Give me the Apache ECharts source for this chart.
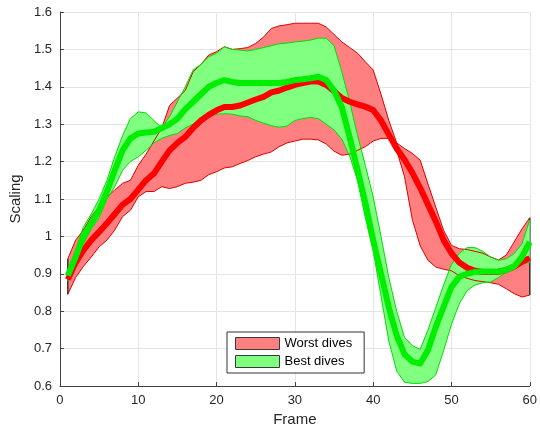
<!DOCTYPE html>
<html>
<head>
<meta charset="utf-8">
<script src="https://cdn.jsdelivr.net/npm/echarts@6/dist/echarts.min.js"></script>
<style>html,body{margin:0;padding:0;background:#fff;}#chart{width:540px;height:435px;}</style>
</head>
<body>
<div id="chart"></div>
<script>
const frames = [1,2,3,4,5,6,7,8,9,10,11,12,13,14,15,16,17,18,19,20,21,22,23,24,25,26,27,28,29,30,
  31,32,33,34,35,36,37,38,39,40,41,42,43,44,45,46,47,48,49,50,51,52,53,54,55,56,57,58,59,60];

const worstUpper = [0.94,0.99,1.017,1.053,1.08,1.106,1.124,1.142,1.15,1.19,1.22,1.255,1.29,1.35,1.37,1.39,1.44,1.46,1.485,1.494,
  1.507,1.50,1.502,1.505,1.516,1.533,1.556,1.563,1.566,1.57,1.57,1.57,1.57,1.56,1.54,1.52,1.505,1.49,1.467,1.445,
  1.38,1.31,1.25,1.235,1.222,1.204,1.14,1.078,1.016,0.976,0.967,0.965,0.96,0.955,0.945,0.937,0.95,0.985,1.02,1.05];
const worstMean = [0.885,0.93,0.963,0.99,1.012,1.035,1.06,1.085,1.1,1.125,1.15,1.168,1.2,1.23,1.25,1.266,1.29,1.31,1.325,1.337,
  1.346,1.346,1.35,1.358,1.366,1.373,1.385,1.39,1.398,1.405,1.41,1.414,1.414,1.405,1.388,1.37,1.36,1.353,1.347,1.338,
  1.31,1.272,1.235,1.205,1.17,1.13,1.085,1.04,0.99,0.955,0.93,0.916,0.908,0.905,0.905,0.905,0.91,0.919,0.932,0.942];
const worstLower = [0.845,0.89,0.92,0.945,0.972,0.99,1.017,1.053,1.07,1.106,1.12,1.12,1.133,1.128,1.133,1.142,1.145,1.15,1.165,1.173,
  1.183,1.186,1.195,1.203,1.213,1.22,1.226,1.24,1.25,1.255,1.26,1.26,1.258,1.247,1.228,1.217,1.22,1.23,1.24,1.255,
  1.262,1.262,1.23,1.16,1.045,0.975,0.936,0.918,0.912,0.908,0.895,0.888,0.882,0.879,0.876,0.872,0.86,0.847,0.838,0.843];

const bestUpper = [0.91,0.963,1.026,1.06,1.1,1.15,1.213,1.27,1.315,1.333,1.33,1.31,1.29,1.32,1.36,1.40,1.445,1.46,1.48,1.49,
  1.507,1.50,1.498,1.496,1.50,1.505,1.51,1.515,1.517,1.52,1.522,1.525,1.53,1.53,1.51,1.44,1.36,1.27,1.19,1.106,
  1.0,0.89,0.8,0.73,0.708,0.698,0.75,0.81,0.87,0.925,0.955,0.97,0.97,0.96,0.945,0.936,0.94,0.954,0.98,1.045];
const bestMean = [0.895,0.945,1.0,1.035,1.07,1.12,1.177,1.23,1.262,1.275,1.278,1.28,1.29,1.3,1.315,1.34,1.36,1.38,1.40,1.41,
  1.418,1.413,1.41,1.41,1.41,1.41,1.41,1.41,1.413,1.418,1.42,1.423,1.427,1.418,1.39,1.345,1.265,1.178,1.09,0.99,
  0.90,0.81,0.735,0.685,0.665,0.66,0.696,0.758,0.812,0.865,0.892,0.9,0.905,0.906,0.906,0.906,0.91,0.92,0.945,0.985];
const bestLower = [0.88,0.93,0.98,1.02,1.05,1.1,1.133,1.177,1.2,1.213,1.23,1.25,1.262,1.27,1.275,1.29,1.30,1.315,1.325,1.327,
  1.328,1.327,1.322,1.32,1.31,1.303,1.296,1.292,1.295,1.31,1.315,1.318,1.315,1.30,1.285,1.26,1.215,1.15,1.05,0.963,
  0.84,0.72,0.64,0.61,0.607,0.607,0.612,0.63,0.695,0.765,0.82,0.855,0.87,0.876,0.878,0.89,0.905,0.919,0.927,0.93];

const xTicks = {min: 0, max: 60, interval: 10};
const yTicks = {min: 0.6, max: 1.6, interval: 0.1};

const FONT = '"Liberation Sans", Arial, Helvetica, sans-serif';
const pairs = (ys) => frames.map((f, i) => [f, ys[i]]);

function bandSeries(name, lower, upper, fill, endStroke) {
  return {
    name: name,
    type: 'custom',
    silent: true,
    data: frames.map((f, i) => [f, lower[i], upper[i]]),
    encode: {x: 0, y: [1, 2]},
    renderItem: function (params, api) {
      if (params.dataIndex !== 0) return null;
      const pts = [];
      for (let i = 0; i < frames.length; i++) pts.push(api.coord([frames[i], upper[i]]));
      for (let i = frames.length - 1; i >= 0; i--) pts.push(api.coord([frames[i], lower[i]]));
      const n = frames.length - 1;
      const children = [{
        type: 'polygon',
        shape: {points: pts},
        style: {fill: fill, stroke: null}
      }];
      if (endStroke) {
        [0, n].forEach(function (k) {
          const a = api.coord([frames[k], lower[k]]);
          const b = api.coord([frames[k], upper[k]]);
          children.push({type: 'line', shape: {x1: a[0], y1: a[1], x2: b[0], y2: b[1]},
            style: {stroke: endStroke, lineWidth: 1.5}});
        });
      }
      return {type: 'group', children: children};
    },
    z: 2
  };
}

function lineSeries(name, ys, color, width) {
  return {
    name: name,
    type: 'line',
    data: pairs(ys),
    showSymbol: false,
    symbol: 'none',
    silent: true,
    lineStyle: {color: color, width: width, join: 'round'},
    itemStyle: {color: color},
    z: 3
  };
}

const chart = echarts.init(document.getElementById('chart'), null, {renderer: 'canvas'});
chart.setOption({
  animation: false,
  backgroundColor: '#ffffff',
  textStyle: {fontFamily: FONT},
  grid: {left: 58, right: 6.5, top: 12, bottom: 49, containLabel: false},
  xAxis: {
    type: 'value',
    min: xTicks.min, max: xTicks.max, interval: xTicks.interval,
    name: 'Frame', nameLocation: 'middle', nameGap: 24,
    nameTextStyle: {color: '#262626', fontSize: 15, fontFamily: FONT},
    axisLine: {show: true, onZero: false, lineStyle: {color: '#404040', width: 1}},
    axisTick: {show: true, inside: true, length: 4, lineStyle: {color: '#404040'}},
    axisLabel: {color: '#262626', fontSize: 13, margin: 8, fontFamily: FONT},
    splitLine: {show: true, lineStyle: {color: '#e5e5e5', width: 1}}
  },
  yAxis: {
    type: 'value',
    min: yTicks.min, max: yTicks.max, interval: yTicks.interval,
    name: 'Scaling', nameLocation: 'middle', nameGap: 33,
    nameTextStyle: {color: '#262626', fontSize: 15, fontFamily: FONT},
    axisLine: {show: true, onZero: false, lineStyle: {color: '#404040', width: 1}},
    axisTick: {show: true, inside: true, length: 4, lineStyle: {color: '#404040'}},
    axisLabel: {color: '#262626', fontSize: 13, margin: 8, fontFamily: FONT,
      formatter: (v) => String(parseFloat(v.toFixed(2)))},
    splitLine: {show: true, lineStyle: {color: '#e5e5e5', width: 1}}
  },
  legend: {
    orient: 'vertical',
    left: 227, top: 332,
    padding: [5, 12, 5, 8],
    itemWidth: 44, itemHeight: 12, itemGap: 5,
    backgroundColor: '#ffffff',
    borderColor: '#333333', borderWidth: 1,
    textStyle: {color: '#000000', fontSize: 13, fontFamily: FONT},
    selectedMode: false,
    data: [
      {name: 'Worst dives', icon: 'rect', itemStyle: {color: '#ff8080', borderColor: '#3a3a3a', borderWidth: 1}},
      {name: 'Best dives', icon: 'rect', itemStyle: {color: '#80ff80', borderColor: '#3a3a3a', borderWidth: 1}}
    ]
  },
  series: [
    bandSeries('Worst dives', worstLower, worstUpper, '#ff8080', '#333333'),
    bandSeries('Best dives', bestLower, bestUpper, '#80ff80', null),
    lineSeries('worstUpperEdge', worstUpper, '#e00000', 1),
    lineSeries('worstLowerEdge', worstLower, '#e00000', 1),
    lineSeries('bestUpperEdge', bestUpper, '#00dd00', 1),
    lineSeries('bestLowerEdge', bestLower, '#00dd00', 1),
    lineSeries('worstMean', worstMean, '#ff0000', 6),
    lineSeries('bestMean', bestMean, '#00ee00', 6)
  ]
});
</script>
</body>
</html>
